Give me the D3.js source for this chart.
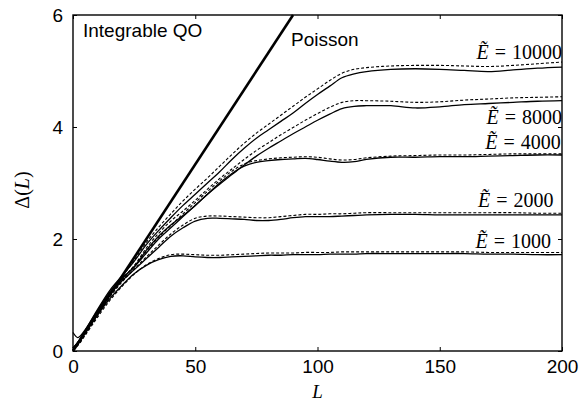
<!DOCTYPE html>
<html>
<head>
<meta charset="utf-8">
<script src="https://cdn.jsdelivr.net/npm/d3@7"></script>
<style>
  body { margin: 0; background: #fff; }
  svg { display: block; }
  .tick text { font-family: "Liberation Sans", Arial, sans-serif; font-size: 19px; fill: #000; }
</style>
</head>
<body>
<div id="chart"></div>
<script>
// sampling grid along L, shared by every curve
var L = [0, 2, 5, 10, 15, 20, 25, 30, 35, 40, 45, 50, 55, 60, 65, 70, 75, 80, 85, 90,
  95, 100, 105, 110, 115, 120, 130, 140, 150, 160, 170, 180, 190, 200]

// solid = numerical, dashed = theory
var e1000 = [0.05, 0.14, 0.33, 0.64, 0.93, 1.17, 1.38, 1.53, 1.63, 1.69, 1.70, 1.68, 1.67, 1.67, 1.68, 1.69, 1.70,
  1.71, 1.71, 1.72, 1.72, 1.72, 1.73, 1.73, 1.73, 1.74, 1.74, 1.74, 1.74, 1.74, 1.73, 1.73, 1.72, 1.72]
var e1000d = [0.02, 0.10, 0.28, 0.60, 0.90, 1.15, 1.37, 1.54, 1.65, 1.72, 1.73, 1.72, 1.71, 1.71, 1.72, 1.73, 1.74,
  1.75, 1.75, 1.75, 1.76, 1.76, 1.76, 1.77, 1.77, 1.77, 1.77, 1.77, 1.77, 1.77, 1.76, 1.76, 1.76, 1.76]
var e2000 = [0.05, 0.15, 0.35, 0.68, 1.00, 1.25, 1.45, 1.65, 1.85, 2.05, 2.20, 2.32, 2.37, 2.37, 2.36, 2.35, 2.33,
  2.33, 2.35, 2.38, 2.40, 2.40, 2.40, 2.41, 2.42, 2.43, 2.44, 2.44, 2.43, 2.43, 2.43, 2.43, 2.43, 2.43]
var e2000d = [0.02, 0.11, 0.30, 0.63, 0.96, 1.23, 1.46, 1.68, 1.89, 2.09, 2.25, 2.37, 2.41, 2.41, 2.40, 2.39, 2.38,
  2.38, 2.40, 2.42, 2.44, 2.44, 2.45, 2.45, 2.46, 2.47, 2.47, 2.47, 2.47, 2.47, 2.47, 2.47, 2.46, 2.46]
var e4000 = [0.05, 0.16, 0.36, 0.70, 1.02, 1.28, 1.50, 1.75, 2.00, 2.20, 2.40, 2.60, 2.80, 3.00, 3.17, 3.30, 3.37,
  3.40, 3.42, 3.43, 3.44, 3.42, 3.39, 3.37, 3.38, 3.42, 3.46, 3.46, 3.47, 3.47, 3.48, 3.49, 3.50, 3.50]
var e4000d = [0.02, 0.12, 0.31, 0.65, 0.98, 1.26, 1.52, 1.78, 2.03, 2.24, 2.45, 2.65, 2.85, 3.04, 3.21, 3.34, 3.40,
  3.43, 3.45, 3.46, 3.47, 3.46, 3.43, 3.41, 3.42, 3.45, 3.48, 3.49, 3.50, 3.50, 3.51, 3.52, 3.52, 3.52]
var e8000 = [0.05, 0.16, 0.37, 0.72, 1.05, 1.30, 1.50, 1.80, 2.05, 2.25, 2.42, 2.60, 2.80, 2.98, 3.15, 3.32, 3.48,
  3.62, 3.75, 3.88, 4.00, 4.12, 4.23, 4.33, 4.37, 4.38, 4.38, 4.34, 4.36, 4.40, 4.42, 4.44, 4.46, 4.47]
var e8000d = [0.02, 0.12, 0.32, 0.67, 1.00, 1.28, 1.52, 1.84, 2.10, 2.32, 2.50, 2.69, 2.89, 3.08, 3.25, 3.42, 3.58,
  3.72, 3.86, 3.99, 4.12, 4.24, 4.35, 4.44, 4.47, 4.47, 4.46, 4.44, 4.45, 4.48, 4.50, 4.52, 4.53, 4.54]
var e10000 = [0.33, 0.24, 0.38, 0.74, 1.08, 1.34, 1.60, 1.90, 2.15, 2.38, 2.60, 2.80, 3.00, 3.20, 3.42, 3.62, 3.80,
  3.95, 4.10, 4.25, 4.42, 4.58, 4.73, 4.88, 4.95, 4.99, 5.03, 5.04, 5.03, 5.01, 4.99, 5.02, 5.05, 5.07]
var e10000d = [0.02, 0.12, 0.33, 0.69, 1.03, 1.32, 1.62, 1.94, 2.21, 2.45, 2.68, 2.89, 3.09, 3.30, 3.51, 3.71, 3.89,
  4.05, 4.21, 4.37, 4.53, 4.68, 4.83, 4.96, 5.03, 5.06, 5.09, 5.10, 5.10, 5.09, 5.08, 5.10, 5.13, 5.16]

var poissonL = [0, 90]
var poissonDelta = [0, 6]

var curveLabels = ["10000", "8000", "4000", "2000", "1000"]
var labelEnd = [200, 200, 199.5, 196.5, 195.5]
var labelDelta = [5.22, 4.05, 3.61, 2.57, 1.84]

var xTicks = [0, 50, 100, 150, 200]
var yTicks = [0, 2, 4, 6]

var W = 581, H = 408
var margin = { top: 15, right: 19, bottom: 57, left: 73 }
var width = W - margin.left - margin.right,
  height = H - margin.top - margin.bottom

var svg = d3
  .select("#chart")
  .append("svg")
  .attr("width", W)
  .attr("height", H)

var g = svg.append("g").attr("transform", "translate(" + margin.left + "," + margin.top + ")")

var x = d3.scaleLinear().domain([0, 200]).range([0, width])
var y = d3.scaleLinear().domain([0, 6]).range([height, 0])

// axes, ticks pointing inward on all four sides
g.append("g")
  .attr("transform", "translate(0," + height + ")")
  .call(d3.axisBottom(x).tickValues(xTicks).tickFormat(d3.format("d")).tickSizeInner(-4).tickSizeOuter(0).tickPadding(9))
g.append("g")
  .call(d3.axisLeft(y).tickValues(yTicks).tickFormat(d3.format("d")).tickSizeInner(-4).tickSizeOuter(0).tickPadding(10))
g.append("g")
  .call(d3.axisTop(x).tickValues(xTicks).tickSizeInner(-4).tickSizeOuter(0).tickFormat(""))
g.append("g")
  .attr("transform", "translate(" + width + ",0)")
  .call(d3.axisRight(y).tickValues(yTicks).tickSizeInner(-4).tickSizeOuter(0).tickFormat(""))

g.selectAll(".domain").remove()
g.selectAll(".tick line").attr("stroke", "#000").attr("stroke-width", 1)

g.append("rect")
  .attr("width", width)
  .attr("height", height)
  .attr("fill", "none")
  .attr("stroke", "#000")
  .attr("stroke-width", 1.4)

var line = d3
  .line()
  .x(function(d) { return x(d[0]) })
  .y(function(d) { return y(d[1]) })
  .curve(d3.curveCatmullRom.alpha(0.5))

function pairs(xs, ys) {
  return xs.map(function(v, i) { return [v, ys[i]] })
}

var plot = g.append("g")

var dashed = [e1000d, e2000d, e4000d, e8000d, e10000d]
var solid = [e1000, e2000, e4000, e8000, e10000]

dashed.forEach(function(s) {
  plot.append("path")
    .attr("d", line(pairs(L, s)))
    .attr("fill", "none")
    .attr("stroke", "#000")
    .attr("stroke-width", 1.1)
    .attr("stroke-dasharray", "3,2")
})

solid.forEach(function(s) {
  plot.append("path")
    .attr("d", line(pairs(L, s)))
    .attr("fill", "none")
    .attr("stroke", "#000")
    .attr("stroke-width", 1.3)
})

plot.append("path")
  .attr("d", d3.line()(pairs(poissonL, poissonDelta).map(function(d) { return [x(d[0]), y(d[1])] })))
  .attr("fill", "none")
  .attr("stroke", "#000")
  .attr("stroke-width", 2.6)

// curve labels
curveLabels.forEach(function(lab, i) {
  var t = g.append("text")
    .attr("x", x(labelEnd[i]))
    .attr("y", y(labelDelta[i]))
    .attr("text-anchor", "end")
    .attr("font-family", "'Liberation Serif', 'Times New Roman', serif")
    .attr("font-size", 20)
  t.append("tspan").attr("font-style", "italic").text("Ẽ")
  t.append("tspan").attr("dx", 6).text("=")
  t.append("tspan").attr("dx", 6).text(lab)
})

g.append("text")
  .attr("x", 10)
  .attr("y", 22)
  .attr("font-family", "'Liberation Sans', Arial, sans-serif")
  .attr("font-size", 19)
  .text("Integrable QO")

g.append("text")
  .attr("x", 218)
  .attr("y", 31)
  .attr("font-family", "'Liberation Sans', Arial, sans-serif")
  .attr("font-size", 19)
  .text("Poisson")

// axis titles
svg.append("text")
  .attr("x", margin.left + x(100))
  .attr("y", 398)
  .attr("text-anchor", "middle")
  .attr("font-family", "'Liberation Serif', 'Times New Roman', serif")
  .attr("font-style", "italic")
  .attr("font-size", 19)
  .text("L")

var yt = svg.append("text")
  .attr("transform", "translate(29,190) rotate(-90)")
  .attr("text-anchor", "middle")
  .attr("font-family", "'Liberation Serif', 'Times New Roman', serif")
  .attr("font-size", 20)
yt.append("tspan").text("Δ(")
yt.append("tspan").attr("font-style", "italic").text("L")
yt.append("tspan").text(")")
</script>
</body>
</html>
